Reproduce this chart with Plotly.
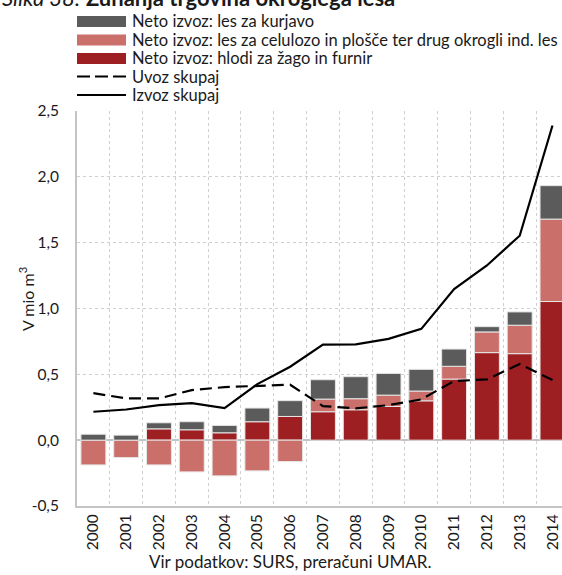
import plotly.graph_objects as go

years = ["2000", "2001", "2002", "2003", "2004", "2005", "2006", "2007",
         "2008", "2009", "2010", "2011", "2012", "2013", "2014"]
hlodi = [0.0, 0.0, 0.086, 0.079, 0.056, 0.140, 0.180, 0.216,
         0.231, 0.256, 0.299, 0.464, 0.665, 0.657, 1.053]
celuloza = [-0.188, -0.132, -0.188, -0.241, -0.271, -0.233, -0.162, 0.096,
            0.084, 0.086, 0.074, 0.097, 0.157, 0.216, 0.626]
kurjava = [0.045, 0.038, 0.046, 0.061, 0.056, 0.104, 0.120, 0.147,
           0.167, 0.165, 0.165, 0.131, 0.040, 0.101, 0.254]
uvoz = [0.357, 0.317, 0.317, 0.380, 0.403, 0.411, 0.421, 0.259,
        0.241, 0.266, 0.310, 0.449, 0.462, 0.578, 0.457]
izvoz = [0.216, 0.233, 0.266, 0.281, 0.244, 0.426, 0.558, 0.725,
         0.728, 0.769, 0.845, 1.147, 1.327, 1.553, 2.390]
y_tickvals = [-0.5, 0.0, 0.5, 1.0, 1.5, 2.0, 2.5]
y_ticktext = ["-0,5", "0,0", "0,5", "1,0", "1,5", "2,0", "2,5"]

names = ["Neto izvoz: les za kurjavo",
         "Neto izvoz: les za celulozo in plošče ter drug okrogli ind. les",
         "Neto izvoz: hlodi za žago in furnir",
         "Uvoz skupaj",
         "Izvoz skupaj"]

C_GRAY = "#5b5b5b"
C_PINK = "#cb6f6b"
C_RED = "#9e1f21"
FONT = "Lato"
TXT = "#1a1a1a"

W, H = 562, 575
L, R, T, B = 77, 0, 111, 69
PW, PH = W - L - R, H - T - B

def px(x):
    return (x - L) / PW

def py(y):
    return (H - B - y) / PH

fig = go.Figure()
bar_line = dict(color="#e6e6e6", width=1)
fig.add_trace(go.Bar(x=years, y=hlodi, name=names[2], marker=dict(color=C_RED, line=bar_line), width=0.76))
fig.add_trace(go.Bar(x=years, y=celuloza, name=names[1], marker=dict(color=C_PINK, line=bar_line), width=0.76))
fig.add_trace(go.Bar(x=years, y=kurjava, name=names[0], marker=dict(color=C_GRAY, line=bar_line), width=0.76))
fig.add_trace(go.Scatter(x=years, y=uvoz, name=names[3], mode="lines",
                         line=dict(color="black", width=2.2, dash="12px,6px")))
fig.add_trace(go.Scatter(x=years, y=izvoz, name=names[4], mode="lines",
                         line=dict(color="black", width=2.2)))

shapes = []
annots = []
rows = [21.5, 40, 58.5, 76.5, 95]
sw_x0, sw_x1, tx = 77, 126, 130
cols = [C_GRAY, C_PINK, C_RED]
for i, yy in enumerate(rows):
    if i < 3:
        shapes.append(dict(type="rect", xref="paper", yref="paper",
                           x0=px(sw_x0), x1=px(sw_x1), y0=py(yy + 5.5), y1=py(yy - 5.5),
                           fillcolor=cols[i], line=dict(width=0)))
    else:
        shapes.append(dict(type="line", xref="paper", yref="paper",
                           x0=px(sw_x0), x1=px(sw_x1), y0=py(yy), y1=py(yy),
                           line=dict(color="black", width=2,
                                     dash="13px,5px" if i == 3 else "solid")))
    annots.append(dict(text=names[i], xref="paper", yref="paper", x=px(tx), y=py(yy),
                       xanchor="left", yanchor="middle", showarrow=False,
                       font=dict(family=FONT, size=16.5, color=TXT)))

annots.append(dict(text="<i>Slika 38:</i> <b>Zunanja trgovina okroglega lesa</b>",
                   xref="paper", yref="paper", x=px(0), y=py(-3), xanchor="left",
                   yanchor="middle", showarrow=False,
                   font=dict(family=FONT, size=22, color=TXT)))
annots.append(dict(text="Vir podatkov: SURS, preračuni UMAR.",
                   xref="paper", yref="paper", x=px(290), y=py(561), xanchor="center",
                   yanchor="middle", showarrow=False,
                   font=dict(family=FONT, size=17, color=TXT)))
annots.append(dict(text="V mio m<sup>3</sup>",
                   xref="paper", yref="paper", x=px(26), y=py(299), xanchor="center",
                   yanchor="middle", showarrow=False, textangle=-90,
                   font=dict(family=FONT, size=16, color=TXT)))

fig.update_layout(
    width=W, height=H,
    margin=dict(l=L, r=R, t=T, b=B, autoexpand=False),
    barmode="relative",
    bargap=0.24,
    showlegend=False,
    plot_bgcolor="white",
    paper_bgcolor="white",
    font=dict(family=FONT, size=15, color=TXT),
    shapes=shapes,
    annotations=annots,
)
fig.update_xaxes(
    type="category",
    range=[-0.5, 14.29],
    tickangle=-90,
    tickson="boundaries",
    ticks="",
    automargin=False,
    showgrid=True, gridcolor="#cfcfcf", griddash="dot", gridwidth=1,
    showline=True, linecolor="#c4c4c4", linewidth=2,
    tickfont=dict(family=FONT, size=15.5, color=TXT),
)
fig.update_yaxes(
    range=[-0.5, 2.5],
    tickmode="array",
    tickvals=y_tickvals,
    ticktext=y_ticktext,
    automargin=False,
    showgrid=True, gridcolor="#cfcfcf", griddash="dot", gridwidth=1,
    zeroline=True, zerolinecolor="#c4c4c4", zerolinewidth=2,
    showline=True, linecolor="#c4c4c4", linewidth=2,
    ticks="outside", ticklen=13, tickcolor="rgba(0,0,0,0)",
    tickfont=dict(family=FONT, size=15.5, color=TXT),
)

fig.write_html("out.html", config={"displayModeBar": False},
               post_script="document.body.style.margin='0';")
